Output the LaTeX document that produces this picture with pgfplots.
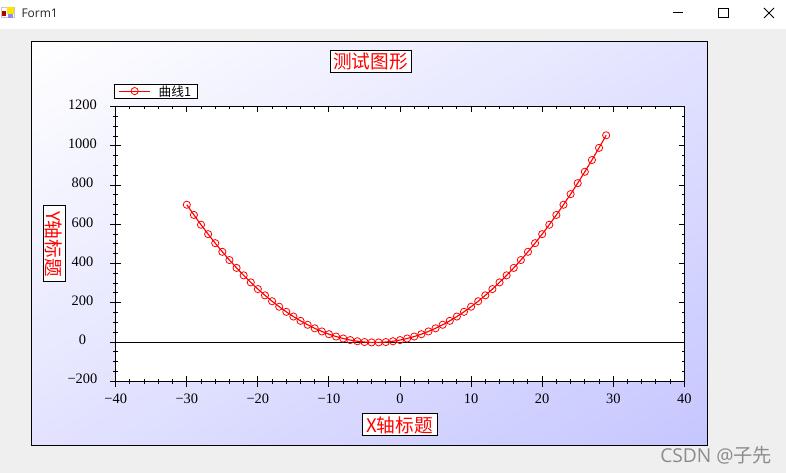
\documentclass[border=0pt]{standalone}
\usepackage{pgfplots}
\pgfplotsset{compat=1.18}
\usepackage{pgfplotstable}
\usepackage{fontspec}
\setmainfont{Liberation Serif}
\newfontfamily\cjk{Noto Sans CJK SC}
\newfontfamily\ui{Open Sans}
\pgfplotstableread{
x y
-30 700
-29 648
-28 598
-27 550
-26 504
-25 460
-24 418
-23 378
-22 340
-21 304
-20 270
-19 238
-18 208
-17 180
-16 154
-15 130
-14 108
-13 88
-12 70
-11 54
-10 40
-9 28
-8 18
-7 10
-6 4
-5 0
-4 -2
-3 -2
-2 0
-1 4
0 10
1 18
2 28
3 40
4 54
5 70
6 88
7 108
8 130
9 154
10 180
11 208
12 238
13 270
14 304
15 340
16 378
17 418
18 460
19 504
20 550
21 598
22 648
23 700
24 754
25 810
26 868
27 928
28 990
29 1054
}\curveone
\definecolor{winbg}{RGB}{239,239,239}
\definecolor{gradend}{RGB}{198,198,255}
\definecolor{curvered}{RGB}{255,0,0}
\begin{document}
\begin{tikzpicture}[x=0.75pt,y=0.75pt,line width=0.75pt]
\useasboundingbox (0,0) rectangle (786,473);
% window (y measured upward: 473 - pixel row)
\fill[winbg] (0,0) rectangle (786,473);
\fill[white] (0,444.3) rectangle (786,473);
% icon
\fill[gray!45] (1,455) rectangle (15,466);
\fill[white] (2,456) rectangle (14,465);
\fill[red!70!black] (2,457) rectangle (6,462);
\fill[yellow!85!orange] (7,459) rectangle (14,466);
\fill[blue!45!white] (8,455) rectangle (13,459);
\node[anchor=west,inner sep=0pt,text=black!85] at (21,460) {\ui\fontsize{9}{10}\selectfont Form1};
% window controls
\draw[black,line width=0.75pt] (673,460) -- (683,460);
\draw[black,line width=0.75pt] (718.5,455) rectangle (728,464.5);
\draw[black,line width=0.75pt] (764,455) -- (774,465) (764,465) -- (774,455);
% chart frame with gradient (isolines parallel to the TR-BL diagonal)
\begin{scope}
\clip (31,27.7) rectangle (707.3,431.7);
\shade[left color=white,right color=gradend,transform canvas={rotate around={-59.13:(369.15,229.7)}}] (22.35,-200) rectangle (715.95,660);
\end{scope}
\draw[black] (31,27.7) rectangle (707.3,431.7);
% plot
\begin{axis}[
  at={(86.8pt,68.8pt)},anchor=south west,
  scale only axis,width=426.45pt,height=205.95pt,
  xmin=-40,xmax=40,ymin=-200,ymax=1200,
  xtick={-40,-30,-20,-10,0,10,20,30,40},
  xticklabels={−40,−30,−20,−10,0,10,20,30,40},
  ytick={-200,0,200,400,600,800,1000,1200},
  yticklabels={−200,0,200,400,600,800,1000,1200},
  minor x tick num=4,minor y tick num=3,
  xtick pos=bottom,ytick pos=left,
  tick align=center,
  major tick length=8pt,minor tick length=4pt,
  tick style={black,line width=0.75pt},
  axis line style={black,line width=0.75pt},
  axis background/.style={fill=white},
  ticklabel style={font=\fontsize{10.8}{11}\selectfont,inner sep=0pt},
  xticklabel style={yshift=-5.5pt},
  yticklabel style={anchor=center,xshift=-21pt,yshift=1.5pt},
  clip=false,
  legend style={at={(0,1)},anchor=south west,yshift=5.6pt,xshift=-1.2pt,
    draw=black,line width=0.75pt,fill=white,
    inner xsep=3pt,inner ysep=1.5pt,
    nodes={inner sep=0pt,font=\cjk\fontsize{9.5}{10}\selectfont,text depth=0pt},
    row sep=0pt},
  legend cell align=left,
  legend image code/.code={
    \draw[#1,draw=curvered,line width=0.85pt] plot[mark=none] coordinates {(0pt,0.2pt)(23.2pt,0.2pt)};
    \draw[#1,draw=curvered,mark repeat=2,mark phase=2] plot[only marks] coordinates {(0pt,0.2pt)(11.6pt,0.2pt)(23.2pt,0.2pt)};
  },
]
\addplot[black,line width=0.75pt,forget plot] coordinates {(-40,0)(40,0)};
\addplot[draw=curvered,line width=0.85pt,mark=o,mark size=2.7pt,mark options={solid,draw=curvered,fill=none,line width=0.6pt}] table[x=x,y=y] {\curveone};
\addlegendentry{\hspace*{6pt}曲线1\hspace*{2pt}}
\end{axis}
\begin{axis}[
  at={(86.8pt,68.8pt)},anchor=south west,
  scale only axis,width=426.45pt,height=205.95pt,
  xmin=-40,xmax=40,ymin=-200,ymax=1200,
  xtick={-40,-30,-20,-10,0,10,20,30,40},
  ytick={-200,0,200,400,600,800,1000,1200},
  xticklabels={},yticklabels={},
  minor x tick num=4,minor y tick num=3,
  xtick pos=top,ytick pos=right,
  tick align=inside,
  major tick length=4pt,minor tick length=2pt,
  tick style={black,line width=0.75pt},
  axis line style={black,line width=0.75pt},
]
\addplot[draw=none,forget plot] coordinates {(-40,-200)(40,1200)};
\end{axis}
% titles
\node[draw=black,fill=white,text=red,inner sep=0pt,minimum width=60.75pt,minimum height=16.5pt,font=\cjk\fontsize{14}{15}\selectfont] at (370.5,411) {测试图形};
\node[draw=black,fill=white,text=red,inner sep=0pt,minimum width=56.25pt,minimum height=16.5pt,font=\cjk\fontsize{14}{15}\selectfont] at (399.5,48) {X轴标题};
\node[draw=black,fill=white,text=red,inner sep=0pt,rotate=-90,minimum width=57pt,minimum height=16.5pt,font=\cjk\fontsize{14}{15}\selectfont] at (54,229) {Y轴标题};
% watermark
\node[anchor=west,inner sep=0pt,text=black!45,font=\ui\fontsize{14.4}{16}\selectfont] at (660,18) {CSDN @\cjk 子先};
\end{tikzpicture}
\end{document}
